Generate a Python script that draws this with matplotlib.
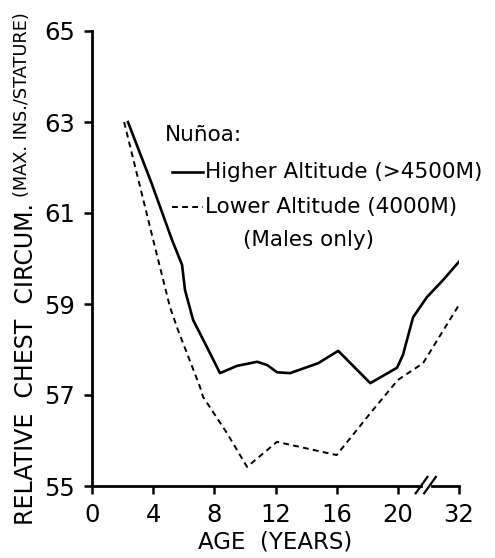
import numpy as np
import matplotlib
matplotlib.use("Agg")
import matplotlib.pyplot as plt
from matplotlib.lines import Line2D

# ages in years, values = chest circumference / stature (%)
high_age = [2.35, 3.9, 5.23, 5.89, 6.08, 6.61, 7.52, 8.37, 9.48, 10.8, 11.45, 12.1, 12.95, 14.8, 16.1,
            18.2, 19.95, 21.0, 23.0, 25.7, 28.9, 32.0]
high_val = [63.0, 61.65, 60.41, 59.86, 59.31, 58.65, 58.05, 57.48, 57.64, 57.73, 57.66, 57.5, 57.48, 57.7, 57.97,
            57.26, 57.6, 57.88, 58.71, 59.15, 59.53, 59.93]

low_age = [2.1, 4.0, 5.1, 5.62, 7.06, 7.26, 8.83, 10.14, 12.1, 16.0, 18.2, 20.0, 24.95, 32.0]
low_val = [63.0, 60.41, 58.93, 58.43, 57.18, 56.96, 56.16, 55.42, 55.97, 55.68, 56.6, 57.33, 57.7, 58.98]

xticks = [0, 4, 8, 12, 16, 20, 32]
yticks = [55, 57, 59, 61, 63, 65]


# ages past 20 are squeezed 3:1 (broken axis)
def fwd(x):
    x = np.asarray(x, dtype=float)
    return np.where(x <= 20, x, 20 + (x - 20) / 3.0)


def inv(p):
    p = np.asarray(p, dtype=float)
    return np.where(p <= 20, p, 20 + (p - 20) * 3.0)


plt.rcParams['font.family'] = ['DejaVu Sans']

fig = plt.figure(figsize=(4.95, 5.58), dpi=100)
ax = fig.add_axes([92 / 495, 1 - 486 / 558, 367 / 495, 455 / 558])
ax.set_xscale('function', functions=(fwd, inv))

dash = (0, (3, 2.2))
ax.plot(high_age, high_val, color='black', lw=1.9, solid_joinstyle='round')
ax.plot(low_age, low_val, color='black', lw=1.4, linestyle=dash)

ax.set_xlim(0, 32)
ax.set_ylim(55, 65)
ax.set_xticks(xticks)
ax.set_xticklabels([str(t) for t in xticks])
ax.set_yticks(yticks)
ax.minorticks_off()
ax.tick_params(axis='both', direction='out', length=6, width=1.8, labelsize=17.5, pad=6)

for s in ['top', 'right']:
    ax.spines[s].set_visible(False)
ax.spines['left'].set_linewidth(2)
ax.spines['bottom'].set_linewidth(2)
# break in the x axis
ax.spines['bottom'].set_bounds(0, 24.5)
ax.plot([26.8, 32], [55, 55], color='black', lw=2, clip_on=False)
for x0 in [0.882, 0.905]:
    ax.plot([x0, x0 + 0.032], [-0.016, 0.02], color='black', lw=1.6,
            transform=ax.transAxes, clip_on=False)

ax.set_xlabel('AGE  (YEARS)', fontsize=16.5, labelpad=3)

fig.text(0.052, 0.059, 'RELATIVE  CHEST  CIRCUM.', rotation=90, ha='center', va='bottom', fontsize=17)
fig.text(0.045, 0.647, '(MAX. INS./STATURE)', rotation=90, ha='center', va='bottom', fontsize=12.8)

# key
fs = 15.5
ax.text(0.199, 0.771, 'Nuñoa:', transform=ax.transAxes, fontsize=fs, va='center')
ax.add_line(Line2D([0.218, 0.302], [0.69, 0.69], color='black', lw=1.9, transform=ax.transAxes))
ax.text(0.308, 0.69, 'Higher Altitude (>4500M)', transform=ax.transAxes, fontsize=fs, va='center')
ax.add_line(Line2D([0.218, 0.302], [0.613, 0.613], color='black', lw=1.4, linestyle=dash,
                   transform=ax.transAxes))
ax.text(0.308, 0.613, 'Lower Altitude (4000M)', transform=ax.transAxes, fontsize=fs, va='center')
ax.text(0.411, 0.541, '(Males only)', transform=ax.transAxes, fontsize=fs, va='center')

fig.savefig('out.png', dpi=100, facecolor='white')
